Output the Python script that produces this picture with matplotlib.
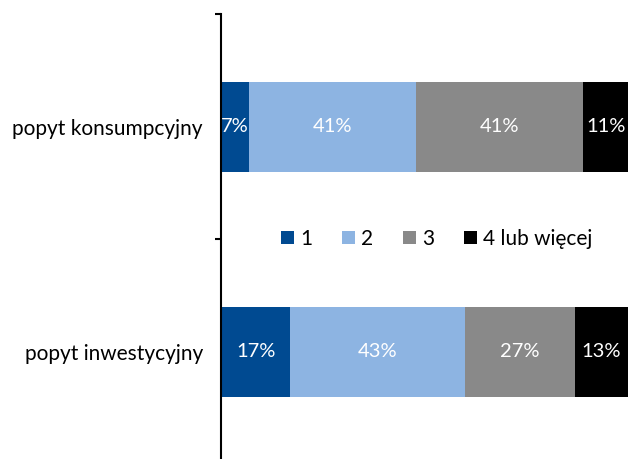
import matplotlib.pyplot as plt
import numpy as np

plt.rcParams['font.family'] = ['Lato', 'DejaVu Sans']

categories = ['popyt konsumpcyjny', 'popyt inwestycyjny']
series = ['1', '2', '3', '4 lub więcej']
values = [
    [7, 17],
    [41, 43],
    [41, 27],
    [11, 13],
]
colors = ['#004a91', '#8db4e2', '#898989', '#000000']

fig = plt.figure(figsize=(6.28, 4.59), dpi=100)
ax = fig.add_axes([221 / 628, -5 / 459, 407 / 628, 450 / 459])

y = np.arange(len(categories))
left = np.zeros(len(categories))
for name, vals, c in zip(series, values, colors):
    vals = np.array(vals, dtype=float)
    ax.barh(y, vals, left=left, height=0.4, color=c, label=name)
    for yi, l, v in zip(y, left, vals):
        ax.text(l + v / 2, yi, f'{int(v)}%', ha='center', va='center',
                color='white', fontsize=14.5)
    left += vals

ax.set_xlim(0, 100)
ax.set_ylim(1.5, -0.5)
ax.set_xticks([])
for s in ['top', 'right', 'bottom']:
    ax.spines[s].set_visible(False)
ax.spines['left'].set_linewidth(1.5)

ax.set_yticks([-0.5, 0.5, 1.5])
ax.set_yticklabels([])
ax.tick_params(axis='y', which='major', direction='out', length=4, width=1.5)
ax.set_yticks(y, minor=True)
ax.set_yticklabels(categories, minor=True, fontsize=15)
ax.tick_params(axis='y', which='minor', length=0, pad=13)

ax.legend(loc='center', bbox_to_anchor=(0.53, 0.5), ncol=4, frameon=False,
          fontsize=15, handlelength=0.6, handleheight=0.6, handletextpad=0.3,
          columnspacing=1.45)

fig.savefig('out.png')
plt.close(fig)
